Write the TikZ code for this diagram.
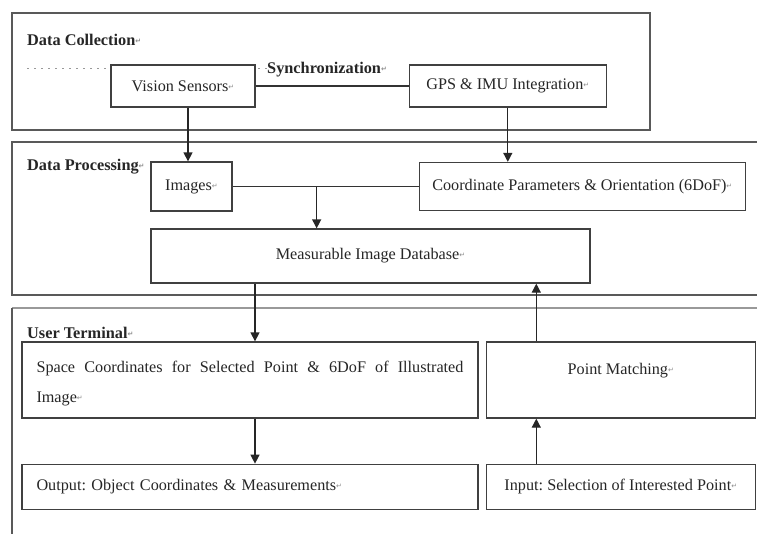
\documentclass[tikz,border=0pt]{standalone}
\usepackage{fontspec}
\setmainfont{Liberation Serif}
\newfontfamily\markfont{DejaVu Sans}
\usetikzlibrary{arrows.meta,positioning}

% small grey return mark after each text
\newcommand{\pmk}{{\markfont\fontsize{7}{7}\selectfont\color{black!45}\raisebox{2pt}{↵}}}
% taller first line in the two-line boxes
\newcommand{\lead}{\rule{0pt}{19pt}}

\begin{document}
\frenchspacing
\begin{tikzpicture}[x=1pt,y=-1pt,
    font=\fontsize{16.2}{30}\selectfont,
    every node/.style={text=black!85},
    box/.style={draw=black!75,line width=1.3pt,fill=white,inner sep=0pt},
    frame/.style={draw=black!65,line width=1.4pt},
    title/.style={font=\fontsize{16.3}{30}\selectfont\bfseries,anchor=west,inner sep=0pt},
    flow/.style={-{Triangle[width=9pt,length=9pt]},line width=1.3pt,black!85}]

\useasboundingbox (0,0) rectangle (757,533);

% Frames
\draw[frame] (12,13) rectangle (650,130);
\draw[frame] (760,142) -- (12,142) -- (12,295) -- (760,295);
\draw[frame,draw=black!40] (760,308) -- (12,308);
\draw[frame] (12,308) -- (12,540);

% Titles
\node[title] (collect) at (27,40) {Data Collection\pmk};
\node[title] (process) at (27,167) {Data Processing\pmk};
\node[title] (terminal) at (27,333) {User Terminal\pmk};
\node[title] (sync) at (267,70) {Synchronization\pmk};

% dotted sync line, runs behind the sensor box
\coordinate (dots) at (27,68);
\draw[black!40,line width=0.8pt,dash pattern=on 2pt off 5pt] (dots) -- (dots -| sync.west);

% Boxes
\node[  box,
        minimum width=144pt, minimum height=42pt
    ] (vision) at (183,86) {Vision Sensors\pmk};
\node[  box,
        minimum width=197pt, minimum height=42pt,
        right=153pt of vision
    ] (gps) {GPS \& IMU Integration\pmk};
\node[  box,
        minimum width=81pt, minimum height=49pt
    ] (images) at (191.5,186.5) {Images\pmk};
\node[  box,
        minimum width=326pt, minimum height=48pt,
        right=186pt of images
    ] (coord) {Coordinate Parameters \& Orientation (6DoF)\pmk};
\node[  box,
        minimum width=439pt, minimum height=54pt
    ] (mid) at (370.5,256) {Measurable Image Database\pmk};
\node[  box,
        minimum width=456pt, minimum height=76pt,
        text width=427pt, align=justify
    ] (space) at (250,380) {\lead Space Coordinates for Selected Point \& 6DoF of Illustrated\linebreak Image\pmk};
\node[  box,
        minimum width=269pt, minimum height=76pt,
        align=center,
        right=7pt of space
    ] (match) {\lead Point Matching\pmk\\\mbox{}};
\node[  box,
        minimum width=456pt, minimum height=45pt,
        text width=427pt, align=left,
        below=45pt of space
    ] (output) {Output: Object Coordinates \& Measurements\pmk};
\node[  box,
        minimum width=269pt, minimum height=45pt,
        below=45pt of match
    ] (input) {Input: Selection of Interested Point\pmk};

% Connectors
\coordinate (camdrop) at ([xshift=5pt]vision.south);
\coordinate (merge) at ([xshift=84pt]images.east);
\coordinate (dbdrop) at ([xshift=5pt]space.north);
\coordinate (pickup) at ([xshift=-84.5pt]match.south);

\draw[line width=1.3pt,black!80]
    (vision) -- (gps)
    (images) -- (coord);
\draw
    (camdrop) edge[flow] (camdrop |- images.north)
    (gps.south) edge[flow] (gps.south |- coord.north)
    (merge) edge[flow] (merge |- mid.north)
    (dbdrop |- mid.south) edge[flow] (dbdrop)
    (dbdrop |- space.south) edge[flow] (dbdrop |- output.north)
    (pickup |- input.north) edge[flow] (pickup)
    (pickup |- match.north) edge[flow] (pickup |- mid.south);
\end{tikzpicture}
\end{document}
